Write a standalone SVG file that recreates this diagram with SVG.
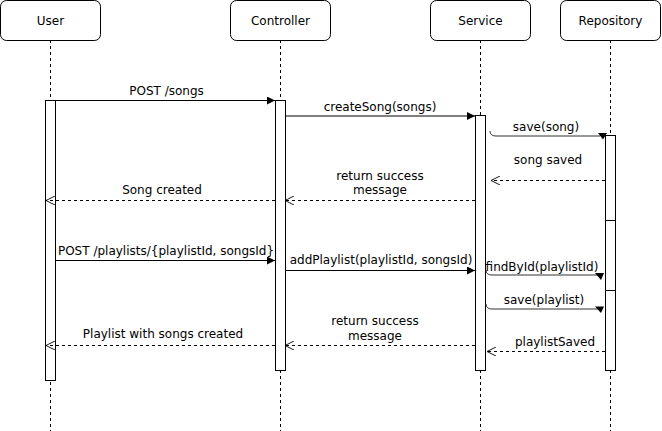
<svg xmlns="http://www.w3.org/2000/svg" width="662" height="431" viewBox="0 0 662 431">
<defs>
<marker id="block" viewBox="0 0 10 10" refX="10" refY="5" markerWidth="8" markerHeight="8" markerUnits="userSpaceOnUse" orient="auto"><path d="M0,0 L10,5 L0,10 Z" fill="#000"/></marker>
<marker id="open" viewBox="0 0 10 10" refX="10" refY="5" markerWidth="9" markerHeight="9" markerUnits="userSpaceOnUse" orient="auto"><path d="M0,0 L10,5 L0,10" fill="none" stroke="#000" stroke-width="1"/></marker>
<style>
.hdr{fill:#fff;stroke:#000;stroke-width:1}
.life{stroke:#000;stroke-width:1;stroke-dasharray:3 3;fill:none}
.act{fill:#fff;stroke:#000;stroke-width:1}
.call{stroke:#000;stroke-width:1;fill:none;marker-end:url(#block)}
.ret{stroke:#000;stroke-width:1;fill:none;stroke-dasharray:3 3;marker-end:url(#open)}
.curve{stroke:#333;stroke-width:1;fill:none}
text{font-family:"DejaVu Sans","Liberation Sans",sans-serif;font-size:12px;fill:#000;text-anchor:middle;dominant-baseline:central}
</style>
</defs>
<g id="lifelines">
<line class="life" x1="50.5" y1="40" x2="50.5" y2="431"/>
<line class="life" x1="280.5" y1="40" x2="280.5" y2="431"/>
<line class="life" x1="480.5" y1="40" x2="480.5" y2="431"/>
<line class="life" x1="610.5" y1="40" x2="610.5" y2="431"/>
</g>
<g id="user"><rect class="hdr" x="0.5" y="0.5" width="100" height="40" rx="6"/><text x="50.5" y="20.5">User</text></g>
<g id="controller"><rect class="hdr" x="230.5" y="0.5" width="100" height="40" rx="6"/><text x="280.5" y="20.5">Controller</text></g>
<g id="service"><rect class="hdr" x="430.5" y="0.5" width="100" height="40" rx="6"/><text x="480.5" y="20.5">Service</text></g>
<g id="repository"><rect class="hdr" x="560.5" y="0.5" width="100" height="40" rx="6"/><text x="610.5" y="20.5">Repository</text></g>
<g id="activations">
<rect class="act" x="45.5" y="100.5" width="10" height="280"/>
<rect class="act" x="275.5" y="100.5" width="10" height="270"/>
<rect class="act" x="475.5" y="115.5" width="10" height="255"/>
<rect class="act" x="605.5" y="135.5" width="10" height="85"/>
<rect class="act" x="605.5" y="220.5" width="10" height="70"/>
<rect class="act" x="605.5" y="290.5" width="10" height="80"/>
</g>
<g id="connectors">
<line class="call" x1="55" y1="100.5" x2="275" y2="100.5"/>
<line class="call" x1="285" y1="116" x2="475" y2="116"/>
<path class="curve" d="M490,131 Q490,136 496,136 L600,136"/>
<polygon points="598,133 607,133 603,139.5" fill="#000"/>
<line class="ret" x1="605" y1="180.5" x2="491" y2="180.5"/>
<line class="ret" x1="475" y1="200.5" x2="285" y2="200.5"/>
<line class="ret" x1="275" y1="200.5" x2="46" y2="200.5"/>
<line class="call" x1="55" y1="260.5" x2="275" y2="260.5"/>
<line class="call" x1="285" y1="270.5" x2="475" y2="270.5"/>
<path class="curve" d="M486,270 Q486,275 492,275 L598,275"/>
<polygon points="595,273 604,273 601,280" fill="#000"/>
<path class="curve" d="M486,304 Q486,309 492,309 L598,309"/>
<polygon points="595,306.5 604,306.5 601,313" fill="#000"/>
<line class="ret" x1="605" y1="351.5" x2="487" y2="351.5"/>
<line class="ret" x1="475" y1="345.5" x2="285" y2="345.5"/>
<line class="ret" x1="275" y1="345.5" x2="46" y2="345.5"/>
</g>
<g id="labels">
<text x="166.5" y="90.5">POST /songs</text>
<text x="380" y="107">createSong(songs)</text>
<text x="546" y="127">save(song)</text>
<text x="548" y="160">song saved</text>
<text x="380" y="176">return success</text>
<text x="380" y="190">message</text>
<text x="162" y="190">Song created</text>
<text x="166" y="250.5">POST /playlists/{playlistId, songsId}</text>
<text x="381" y="260">addPlaylist(playlistId, songsId)</text>
<text x="542" y="267">findById(playlistId)</text>
<text x="544" y="300">save(playlist)</text>
<text x="555" y="342">playlistSaved</text>
<text x="375" y="321">return success</text>
<text x="375" y="336">message</text>
<text x="163" y="334">Playlist with songs created</text>
</g>
</svg>
